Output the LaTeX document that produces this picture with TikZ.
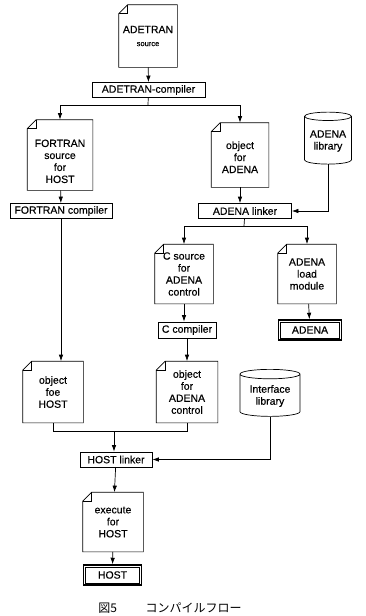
\documentclass[tikz,border=0pt]{standalone}
\usepackage{fontspec}
\setmainfont{Liberation Sans}[FakeBold=0.4]
\newfontfamily\cjk{Noto Sans CJK JP}
\usetikzlibrary{arrows.meta,positioning,shapes.geometric}

\begin{document}
\begin{tikzpicture}[
  x=1pt, y=-1pt,
  font=\fontsize{10.5}{12}\selectfont,
  line width=0.7pt,
  box/.style={draw, align=center, inner sep=1pt, minimum height=15pt},
  doc/.style={align=center, inner sep=1pt, minimum width=58pt, minimum height=62pt},
  lib/.style={draw, cylinder, shape border rotate=90, aspect=0.22, align=center, inner sep=1pt},
  target/.style={draw, line width=1.5pt, align=center, minimum height=20pt},
  arr/.style={-{Latex[length=6.5pt,width=4.5pt]}}
]
  \useasboundingbox (0,0) rectangle (365,616);

  % upper part
  \node[doc] (src) at (148,36) {ADETRAN\\[1pt]{\fontsize{7.5}{8}\selectfont source}};
  \node[box, minimum width=113pt] (adc) at (148.5,90) {ADETRAN-compiler};
  \node[doc, minimum width=65pt, minimum height=70pt] (ftn) at (60,155) {\\[8pt]FORTRAN\\source\\for\\HOST};
  \node[box, minimum width=102pt] (fc) at (61,211) {FORTRAN compiler};
  \node[doc, minimum width=57pt, minimum height=64pt] (objA) at (240,155) {\\object\\for\\ADENA};
  \node[lib, minimum width=47pt, minimum height=52pt] (alib) at (328,141) {ADENA\\library};
  \node[box, minimum width=93pt] (al) at (245,211) {ADENA linker};

  % ADENA side
  \node[doc, minimum height=59pt] (csrc) at (184,274) {C source\\for\\ADENA\\control};
  \node[doc, minimum height=59pt] (load) at (307,274) {ADENA\\load\\module};
  \node[box, minimum width=58pt, minimum height=16pt] (cc) at (187,330) {C compiler};
  \node[target, minimum width=63pt] (adena) at (310,330) {ADENA};

  % lower part
  \node[doc, minimum width=60pt, minimum height=61pt] (objH) at (53,392) {object\\foe\\HOST};
  \node[doc, minimum width=61pt, minimum height=61pt] (objC) at (187,392) {object\\for\\ADENA\\control};
  \node[lib, minimum width=60pt, minimum height=47pt] (ilib) at (270,396) {Interface\\library};
  \node[box, minimum width=72pt] (hl) at (116,459.5) {HOST linker};
  \node[doc, minimum width=60pt, minimum height=59pt] (exe) at (113,522) {execute\\for\\HOST};
  \node[target, minimum width=58pt] (host) at (112.5,575) {HOST};

  \node[font=\fontsize{12}{14}\selectfont] (cap) at (170,608) {\cjk 図5\hspace{2.4em}コンパイルフロー};

  % document outlines with folded corner
  \foreach \d in {src,ftn,objA,csrc,load,objH,objC,exe}{
    \draw ([yshift=-9pt]\d.north west) -- (\d.south west) -- (\d.south east)
      -- (\d.north east) -- ([xshift=9pt]\d.north west) -- cycle;
    \draw ([yshift=-9pt]\d.north west) -| ([xshift=9pt]\d.north west);
  }
  % inner frame of the targets
  \foreach \t in {adena,host}
    \draw[line width=0.5pt] ([shift={(2.6pt,-2.6pt)}]\t.north west) rectangle ([shift={(-2.6pt,2.6pt)}]\t.south east);

  \coordinate (s1) at (148,105);
  \coordinate (s2) at (244,226);
  \coordinate (j) at (114,431);

  \draw[arr] (src) -- (adc);
  \draw (adc) -- (s1);
  \draw[arr] (s1) -| (ftn);
  \draw[arr] (s1) -| (objA);
  \draw[arr] (ftn) -- (fc);
  \draw[arr] (fc.south) -- (fc.south |- objH.north);
  \draw[arr] (objA.south) -- (objA.south |- al.north);
  \draw[arr] (alib.south) |- (al.east);
  \draw (al) -- (s2);
  \draw[arr] (s2) -| (csrc);
  \draw[arr] (s2) -| (load);
  \draw[arr] (csrc.south) -- (csrc.south |- cc.north);
  \draw[arr] (load) -- (adena);
  \draw[arr] (cc) -- (objC);
  \draw (objH.south) |- (j);
  \draw (objC.south) |- (j);
  \draw[arr] (j) -- (j |- hl.north);
  \draw[arr] (ilib.south) |- (hl.east);
  \draw[arr] (hl) -- (exe);
  \draw[arr] (exe) -- (host);
\end{tikzpicture}
\end{document}
